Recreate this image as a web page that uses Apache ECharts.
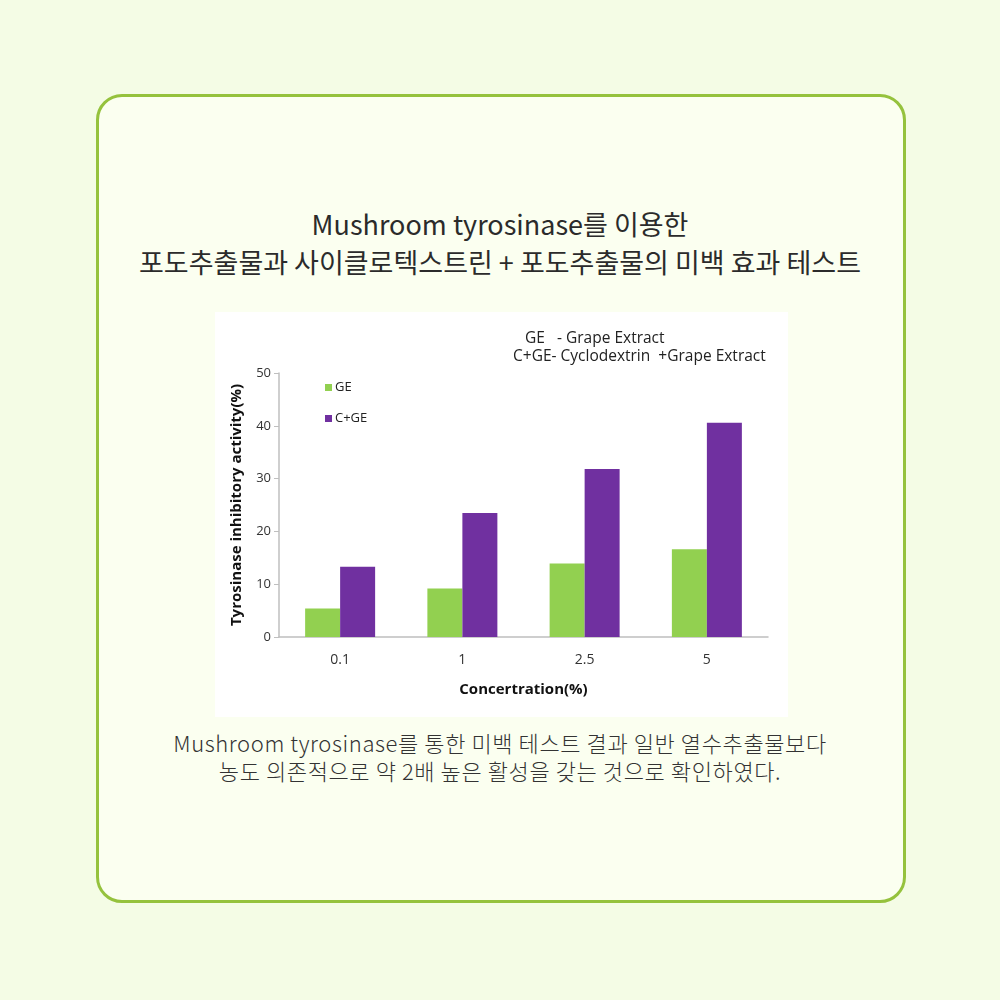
<!DOCTYPE html>
<html>
<head>
    <meta charset="utf-8">
    <title>Mushroom tyrosinase 미백 효과 테스트</title>
    <script src="https://cdn.jsdelivr.net/npm/echarts@6/dist/echarts.min.js"></script>
    <style>
        html, body {
            margin: 0;
            padding: 0;
            width: 1000px;
            height: 1000px;
            background: #f4fce5;
            font-family: "Noto Sans CJK KR", "Noto Sans", sans-serif;
        }
        .card {
            position: absolute;
            left: 96px;
            top: 94px;
            width: 804px;
            height: 803px;
            border: 3px solid #95c23d;
            border-radius: 26px;
            background: #fbfff0;
        }
        .title {
            position: absolute;
            left: 0;
            top: 205px;
            width: 1000px;
            text-align: center;
            font-size: 27px;
            font-weight: 400;
            line-height: 38px;
            color: #2b2b2b;
        }
        .caption {
            position: absolute;
            left: 0;
            top: 728px;
            width: 1000px;
            text-align: center;
            font-size: 22px;
            font-weight: 300;
            line-height: 28px;
            color: #333;
            letter-spacing: 0.6px;
        }
        #chart {
            position: absolute;
            left: 215px;
            top: 312px;
            width: 573px;
            height: 405px;
            background: #ffffff;
        }
    </style>
</head>
<body>
    <div class="card"></div>
    <div class="title">Mushroom tyrosinase를 이용한<br>포도추출물과 사이클로텍스트린 + 포도추출물의 미백 효과 테스트</div>
    <div id="chart"></div>
    <div class="caption">Mushroom tyrosinase를 통한 미백 테스트 결과 일반 열수추출물보다<br>농도 의존적으로 약 2배 높은 활성을 갖는 것으로 확인하였다.</div>

    <script>
    // 농도별 카테고리와 측정값
    const concentrations = ['0.1', '1', '2.5', '5'];
    const geValues = [5.4, 9.2, 13.9, 16.6];
    const cgeValues = [13.3, 23.5, 31.8, 40.6];
    const yTicks = { min: 0, max: 50, interval: 10 };

    const font = '"Open Sans", "Noto Sans", sans-serif';
    const chart = echarts.init(document.getElementById('chart'));

    chart.setOption({
        backgroundColor: '#ffffff',
        animation: false,
        textStyle: { fontFamily: font },
        grid: { left: 64, right: 20, top: 61, bottom: 80 },
        legend: {
            orient: 'vertical',
            left: 105,
            top: 64,
            itemWidth: 7,
            itemHeight: 7,
            itemGap: 18,
            icon: 'rect',
            textStyle: { fontSize: 13, color: '#222', padding: [0, 0, 0, -2] },
            data: ['GE', 'C+GE']
        },
        graphic: [
            {
                type: 'text',
                left: 310,
                top: 19,
                style: { text: 'GE   - Grape Extract', fontSize: 15.5, fill: '#222', fontFamily: font }
            },
            {
                type: 'text',
                left: 298,
                top: 37,
                style: { text: 'C+GE- Cyclodextrin  +Grape Extract', fontSize: 15.5, fill: '#222', fontFamily: font }
            }
        ],
        xAxis: {
            type: 'category',
            data: concentrations,
            name: 'Concertration(%)',
            nameLocation: 'middle',
            nameGap: 45,
            nameTextStyle: { fontSize: 15, fontWeight: 'bold', color: '#111' },
            axisLine: { lineStyle: { color: '#bfbfbf', width: 1.5 } },
            axisTick: { show: false },
            axisLabel: { fontSize: 14, color: '#333', margin: 16 }
        },
        yAxis: {
            type: 'value',
            min: yTicks.min,
            max: yTicks.max,
            interval: yTicks.interval,
            name: 'Tyrosinase inhibitory activity(%)',
            nameLocation: 'middle',
            nameGap: 35,
            nameTextStyle: { fontSize: 15, fontWeight: 'bold', color: '#111' },
            axisLine: { show: true, lineStyle: { color: '#bfbfbf', width: 1.5 } },
            axisTick: { show: true, length: 5, lineStyle: { color: '#bfbfbf' } },
            axisLabel: { fontSize: 13, color: '#333', margin: 8 },
            splitLine: { show: false }
        },
        series: [
            {
                name: 'GE',
                type: 'bar',
                data: geValues,
                barWidth: 35,
                barGap: '0%',
                itemStyle: { color: '#92d050' }
            },
            {
                name: 'C+GE',
                type: 'bar',
                data: cgeValues,
                barWidth: 35,
                itemStyle: { color: '#7030a0' }
            }
        ]
    });
    </script>
</body>
</html>
